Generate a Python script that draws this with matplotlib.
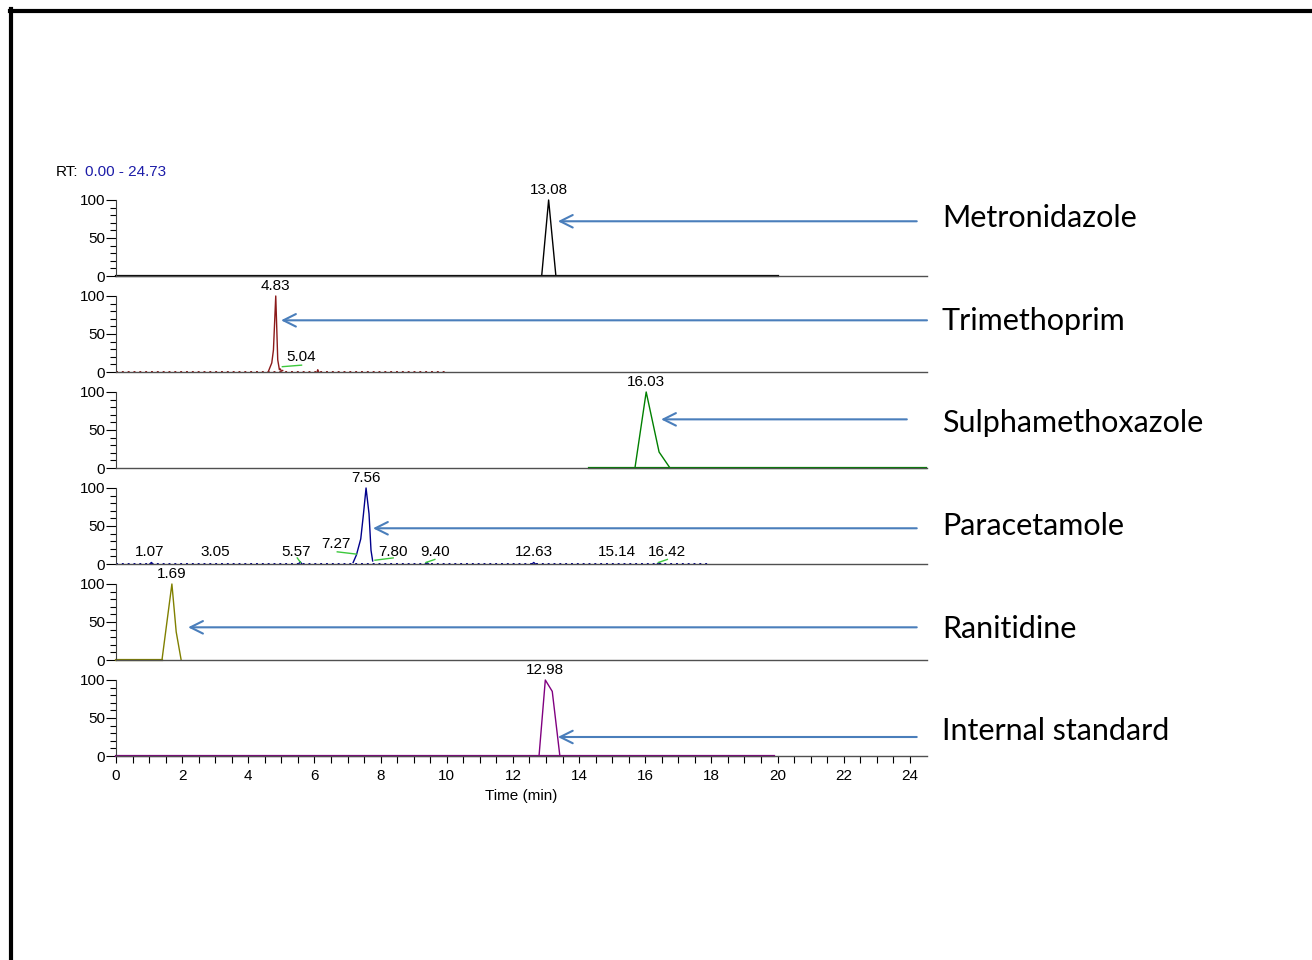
import matplotlib.pyplot as plt
from matplotlib.lines import Line2D

plt.rcParams['font.family'] = ['Liberation Sans', 'DejaVu Sans']

# chromatogram traces (time in min, relative abundance %)
metro_t = [0.0, 12.87, 13.08, 13.30, 20.0]
metro_i = [0, 0, 100, 0, 0]

trim_base_t = [0.0, 9.95]
trim_t = [4.60, 4.71, 4.76, 4.83, 4.89, 4.94, 4.97, 5.00, 5.04]
trim_i = [0, 12, 29, 100, 16, 3, 4, 1, 2]
trim_small_t = [6.08, 6.10, 6.13]
trim_small_i = [0, 3, 0]
trim_fit_t = [5.03, 5.61]
trim_fit_i = [7, 9]

sulpha_t = [14.3, 15.69, 16.03, 16.42, 16.75, 24.5]
sulpha_i = [0, 0, 100, 21, 0, 0]

para_base_t = [0.0, 17.96]
para_t = [7.17, 7.27, 7.40, 7.48, 7.56, 7.65, 7.71, 7.76]
para_i = [2, 12, 33, 65, 100, 66, 18, 4]
para_bumps_t = [1.07, 5.57, 9.40, 12.63, 16.42]
para_bumps_i = [2, 3, 2, 2, 2]
para_fits = [([5.48, 5.58], [8, 2]),
             ([6.69, 7.27], [16, 13]),
             ([7.83, 8.38], [5, 8]),
             ([9.37, 9.64], [2, 6]),
             ([16.40, 16.67], [2, 6])]
para_labels = [1.07, 3.05, 5.57, 7.27, 7.80, 9.40, 12.63, 15.14, 16.42]

rani_t = [0.0, 1.39, 1.69, 1.82, 1.97]
rani_i = [0, 0, 100, 37, 0]

istd_t = [0.0, 12.79, 12.98, 13.19, 13.42, 19.9]
istd_i = [0, 0, 100, 85, 0, 0]

names = ['Metronidazole', 'Trimethoprim', 'Sulphamethoxazole',
         'Paracetamole', 'Ranitidine', 'Internal standard']
apex_rt = [13.08, 4.83, 16.03, 7.56, 1.69, 12.98]
colors = ['black', '#8b1a1a', '#008000', '#00008b', '#808000', '#800080']
fit_color = '#3cc83c'

W, H = 1312, 960
fs = 11
fig = plt.figure(figsize=(W / 100, H / 100), dpi=100)

axes = []
for i in range(6):
    y0 = 276 + 96 * i
    ax = fig.add_axes([116 / W, (H - y0) / H, (927 - 116) / W, 96 / H])
    ax.set_xlim(0, 24.52)
    ax.set_ylim(0, 126.3)
    for s in ['top', 'right']:
        ax.spines[s].set_visible(False)
    ax.spines['left'].set_bounds(0, 100)
    ax.spines['left'].set_color('#404040')
    ax.spines['bottom'].set_color('#505050')
    ax.spines['bottom'].set_linewidth(1.0)
    ax.set_yticks([0, 50, 100])
    ax.set_yticks(range(0, 101, 10), minor=True)
    ax.tick_params(axis='y', which='major', length=7, width=0.8, pad=1, labelsize=fs)
    ax.tick_params(axis='y', which='minor', length=4, width=0.8)
    ax.patch.set_alpha(0)
    if i < 5:
        ax.set_xticks([])
    axes.append(ax)

ax1, ax2, ax3, ax4, ax5, ax6 = axes
lw = 1.0

ax1.plot(metro_t, metro_i, color=colors[0], lw=lw, clip_on=False)
ax1.plot([0, 20.0], [0, 0], color=colors[0], lw=1.6, clip_on=False)

ax2.plot(trim_base_t, [0, 0], color=colors[1], lw=1.4, ls=(0, (1, 2)), clip_on=False)
ax2.plot(trim_t, trim_i, color=colors[1], lw=lw, clip_on=False)
ax2.plot(trim_small_t, trim_small_i, color=colors[1], lw=lw)
ax2.plot(trim_fit_t, trim_fit_i, color=fit_color, lw=lw)

ax3.plot(sulpha_t, sulpha_i, color=colors[2], lw=lw, clip_on=False)
ax3.plot([14.3, 24.5], [0, 0], color=colors[2], lw=1.6, clip_on=False)

ax4.plot(para_base_t, [0, 0], color=colors[3], lw=1.4, ls=(0, (1, 2)), clip_on=False)
ax4.plot(para_t, para_i, color=colors[3], lw=lw, clip_on=False)
for t, v in zip(para_bumps_t, para_bumps_i):
    ax4.plot([t - 0.05, t, t + 0.05], [0, v, 0], color=colors[3], lw=lw)
for ft, fv in para_fits:
    ax4.plot(ft, fv, color=fit_color, lw=lw)

ax5.plot(rani_t, rani_i, color=colors[4], lw=lw, clip_on=False)
ax5.plot([0, 1.39], [0, 0], color=colors[4], lw=1.6, clip_on=False)

ax6.plot(istd_t, istd_i, color=colors[5], lw=lw, clip_on=False)
ax6.plot([0, 19.9], [0, 0], color=colors[5], lw=1.6, clip_on=False)

# apex labels
for ax, rt in zip(axes, apex_rt):
    ax.annotate(f'{rt:.2f}', xy=(rt, 100), xytext=(0, 2), textcoords='offset points',
                ha='center', va='bottom', fontsize=fs, annotation_clip=False)
ax2.annotate('5.04', xy=(5.04, 9), xytext=(13, 1), textcoords='offset points',
             ha='center', va='bottom', fontsize=fs)

label_shift = {1.07: (-1, 0), 3.05: (-1, 0), 5.57: (-3, 0), 7.27: (-15, 6),
               7.80: (14, 0), 9.40: (6, 0), 12.63: (0, 0), 15.14: (0, 0), 16.42: (6, 0)}
for rt in para_labels:
    dx, dy = label_shift[rt]
    ax4.annotate(f'{rt:.2f}', xy=(rt, 6), xytext=(dx, dy), textcoords='offset points',
                 ha='center', va='bottom', fontsize=fs)

# x axis on bottom panel
ax6.set_xticks(range(0, 25, 2))
ax6.set_xticks([x / 2 for x in range(0, 49)], minor=True)
ax6.tick_params(axis='x', which='major', length=5, width=0.8, labelsize=fs, pad=4.5)
ax6.tick_params(axis='x', which='minor', length=5, width=0.8)
ax6.set_xlabel('Time (min)', fontsize=fs, labelpad=4)

# arrows pointing at each peak
arrow_blue = '#4a7ebb'
arrows = [(13.36, 72, 24.21), (4.99, 68, 24.52), (16.48, 64, 23.91),
          (7.77, 47, 24.21), (2.18, 43, 24.21), (13.36, 25, 24.21)]
for ax, (tip, yv, tail) in zip(axes, arrows):
    ax.annotate('', xy=(tip, yv), xytext=(tail, yv), annotation_clip=False,
                arrowprops=dict(arrowstyle='->,head_length=0.6,head_width=0.3',
                                color=arrow_blue, lw=1.5, mutation_scale=15,
                                shrinkA=0, shrinkB=0))

name_y = [218, 321, 423, 526, 629, 731]
for name, y in zip(names, name_y):
    fig.text(942 / W, 1 - y / H, name, fontsize=22, family=['Lato', 'DejaVu Sans'],
             va='center', ha='left')

fig.text(56 / W, 1 - 172 / H, 'RT:', fontsize=fs, va='center')
fig.text(85 / W, 1 - 172 / H, '0.00 - 24.73', fontsize=fs, va='center', color='#1c1ca8')

# frame lines along top and left edge
fig.add_artist(Line2D([10 / W, 1], [1 - 11 / H, 1 - 11 / H], color='black', lw=3,
                      transform=fig.transFigure))
fig.add_artist(Line2D([11 / W, 11 / W], [0, 1 - 9 / H], color='black', lw=3,
                      transform=fig.transFigure))

fig.savefig('out.png', dpi=100)
